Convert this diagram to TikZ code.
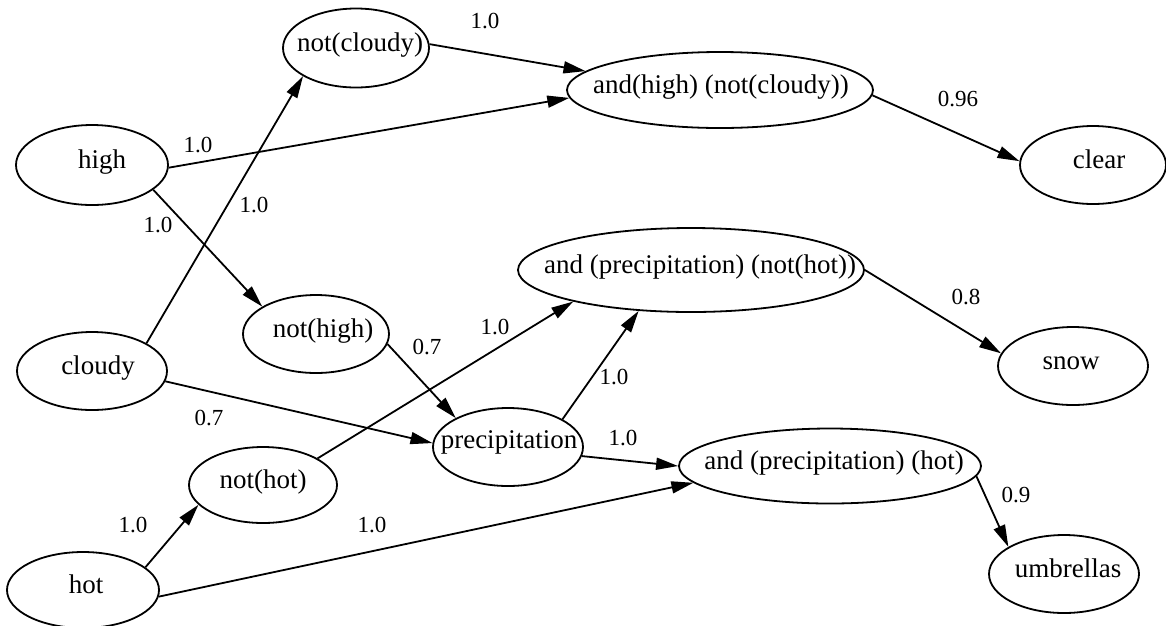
\documentclass[tikz,border=0pt]{standalone}
\usepackage{fontspec}
\setmainfont{Liberation Serif}
\usetikzlibrary{shapes.geometric,arrows.meta}
\begin{document}
\begin{tikzpicture}[x=1pt,y=-1pt,
  state/.style={ellipse,draw,line width=1.8pt,inner sep=0pt},
  nodetext/.style={inner sep=0pt,text height=0.8em,text depth=0.1em,font=\fontsize{27}{30}\selectfont},
  lbl/.style={inner sep=0pt,font=\fontsize{23}{25}\selectfont},
  edge/.style={line width=1.8pt,-{Triangle[length=22pt,width=12pt]}}]
\useasboundingbox (0,0) rectangle (1166,625);

% ellipses
\node[state,minimum width=152pt,minimum height=80pt] (high) at (92,165) {};
\node[state,minimum width=146pt,minimum height=79pt] (notcloudy) at (356,48) {};
\node[state,minimum width=306pt,minimum height=76pt] (andhigh) at (720,90) {};
\node[state,minimum width=146pt,minimum height=78pt] (clear) at (1093,165) {};
\node[state,minimum width=346pt,minimum height=84pt] (andnothot) at (691,270) {};
\node[state,minimum width=146pt,minimum height=78pt] (nothigh) at (316,334) {};
\node[state,minimum width=150pt,minimum height=78pt] (cloudy) at (92,371) {};
\node[state,minimum width=150pt,minimum height=78pt] (snow) at (1073,366) {};
\node[state,minimum width=150pt,minimum height=78pt] (precip) at (508,447) {};
\node[state,minimum width=148pt,minimum height=76pt] (nothot) at (263,485) {};
\node[state,minimum width=302pt,minimum height=75pt] (andhot) at (830,466) {};
\node[state,minimum width=152pt,minimum height=76pt] (hot) at (83,590) {};
\node[state,minimum width=150pt,minimum height=78pt] (umbrellas) at (1064,574) {};

% texts inside the ellipses
\node[nodetext] (high-t) at (102,165) {high};
\node[nodetext] (notcloudy-t) at (360,48) {not(cloudy)};
\node[nodetext] (andhigh-t) at (721,90) {and(high) (not(cloudy))};
\node[nodetext] (clear-t) at (1099,165) {clear};
\node[nodetext] (andnothot-t) at (700,270) {and (precipitation) (not(hot))};
\node[nodetext] (nothigh-t) at (323,334) {not(high)};
\node[nodetext] (cloudy-t) at (98,371) {cloudy};
\node[nodetext] (snow-t) at (1071,366) {snow};
\node[nodetext] (precip-t) at (509,445) {precipitation};
\node[nodetext] (nothot-t) at (263,485) {not(hot)};
\node[nodetext] (andhot-t) at (834,466) {and (precipitation) (hot)};
\node[nodetext] (hot-t) at (86,590) {hot};
\node[nodetext] (umbrellas-t) at (1068,574) {umbrellas};

% connectors
\draw[edge] (notcloudy.3) -- (andhigh.172.7);
\draw[edge] (high.-2) -- (andhigh.183.5);
\draw[edge] (andhigh.-2.6) -- (clear.177.6);
\draw[edge] (cloudy.27.8) -- (notcloudy.208.7);
\draw[edge] (high.-22.6) -- (nothigh.153);
\draw[edge] (nothigh.-8.7) -- (precip.151.8);
\draw[edge] (cloudy.-8.3) -- (precip.177);
\draw[edge] (nothot.26) -- (andnothot.195);
\draw[edge] (precip.27.4) -- (andnothot.218);
\draw[edge] (precip.-7.6) -- (andhot.180.4);
\draw[edge] (hot.20.4) -- (nothot.197.6);
\draw[edge] (hot.-5) -- (andhot.187.3);
\draw[edge] (andnothot.0.7) -- (snow.170.5);
\draw[edge] (andhot.-4.6) -- (umbrellas.154);

% weights
\node[lbl] (w1) at (485,21) {1.0};
\node[lbl] (w2) at (198,145) {1.0};
\node[lbl] (w3) at (958,99) {0.96};
\node[lbl] (w4) at (254,205) {1.0};
\node[lbl] (w5) at (158,225) {1.0};
\node[lbl] (w6) at (427,347) {0.7};
\node[lbl] (w7) at (495,327) {1.0};
\node[lbl] (w8) at (614,377) {1.0};
\node[lbl] (w9) at (966,297) {0.8};
\node[lbl] (w10) at (209,418) {0.7};
\node[lbl] (w11) at (623,438) {1.0};
\node[lbl] (w12) at (133,525) {1.0};
\node[lbl] (w13) at (372,525) {1.0};
\node[lbl] (w14) at (1016,495) {0.9};
\end{tikzpicture}
\end{document}
